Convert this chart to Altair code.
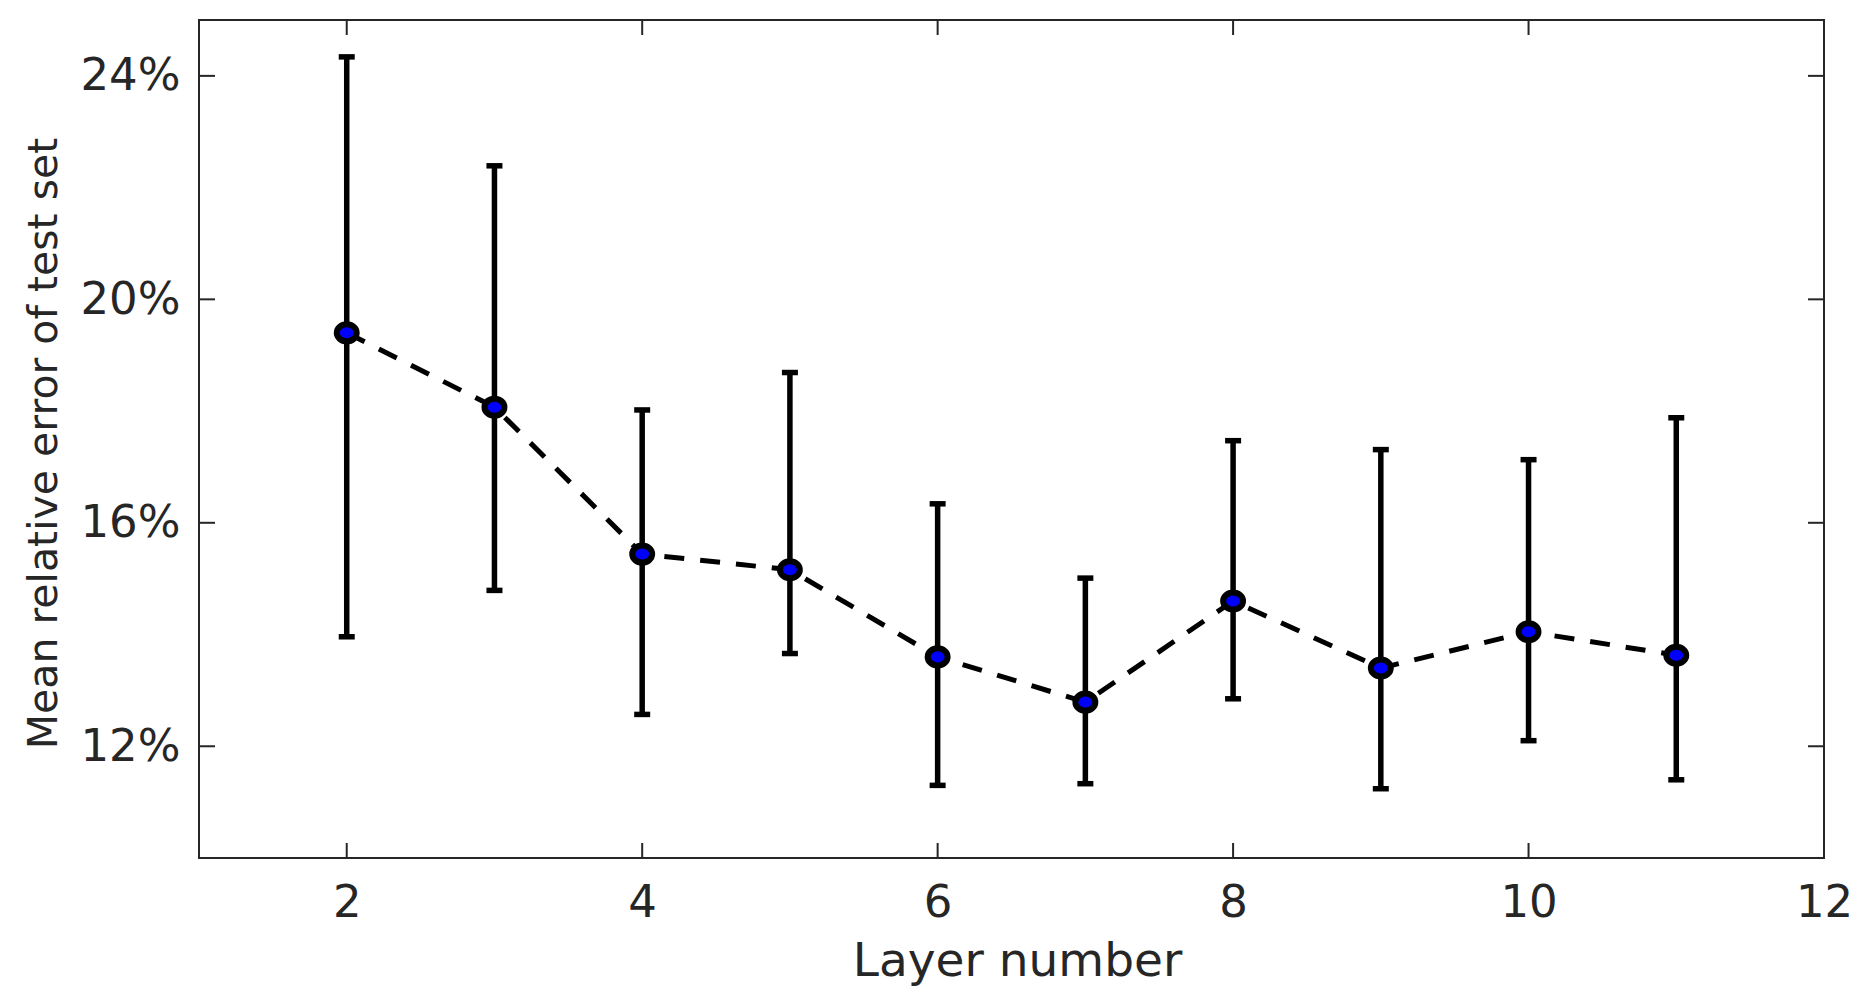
import altair as alt
import pandas as pd

# Data
layers = [2, 3, 4, 5, 6, 7, 8, 9, 10, 11]
mean_err = [19.40, 18.07, 15.44, 15.16, 13.60, 12.79, 14.60, 13.40, 14.05, 13.63]
upper_err = [24.34, 22.39, 18.02, 18.69, 16.34, 15.01, 17.47, 17.31, 17.13, 17.88]
lower_err = [13.96, 14.79, 12.57, 13.66, 11.30, 11.33, 12.85, 11.24, 12.10, 11.40]

x_ticks = [2, 4, 6, 8, 10, 12]
y_ticks = [12, 16, 20, 24]

W, H = 1625, 838
FONT = "DejaVu Sans"
TXT = "#262626"

df = pd.DataFrame({"layer": layers, "mean": mean_err, "upper": upper_err, "lower": lower_err})
dfx = pd.DataFrame({"t": x_ticks})
dfy = pd.DataFrame({"t": y_ticks})

xs = alt.Scale(domain=[1, 12], nice=False, zero=False)
ys = alt.Scale(domain=[10, 25], nice=False, zero=False)

xaxis = alt.Axis(values=x_ticks, title="Layer number", labelPadding=22, labelFlush=False,
                 titleFontSize=47,
                 titleY=117, titleBaseline="alphabetic", titleX=818, titleAlign="center")
yaxis = alt.Axis(values=y_ticks, title="Mean relative error of test set",
                 labelExpr="datum.value + '%'", labelPadding=19, titleFontSize=41,
                 titleX=-143, titleY=423, titleAngle=270, titleBaseline="alphabetic",
                 titleAlign="center")

base = alt.Chart(df)

bars = base.mark_rule(color="black", strokeWidth=5.5).encode(
    x=alt.X("layer:Q", scale=xs, axis=xaxis),
    y=alt.Y("lower:Q", scale=ys, axis=yaxis),
    y2="upper:Q",
)
cap_top = base.mark_tick(color="black", orient="horizontal", size=16, thickness=5.5, opacity=1).encode(
    x=alt.X("layer:Q", scale=xs, axis=xaxis),
    y=alt.Y("upper:Q", scale=ys, axis=yaxis),
)
cap_bot = base.mark_tick(color="black", orient="horizontal", size=16, thickness=5.5, opacity=1).encode(
    x=alt.X("layer:Q", scale=xs, axis=xaxis),
    y=alt.Y("lower:Q", scale=ys, axis=yaxis),
)
line = base.mark_line(color="black", strokeWidth=5, strokeDash=[20, 16]).encode(
    x=alt.X("layer:Q", scale=xs, axis=xaxis),
    y=alt.Y("mean:Q", scale=ys, axis=yaxis),
)
ellipse = "M-1.17,0A1.17,1 0 1,1 1.17,0A1.17,1 0 1,1 -1.17,0Z"
points = base.mark_point(shape=ellipse, size=290, filled=True, fill="#0000ff", stroke="black",
                         strokeWidth=6, opacity=1).encode(
    x=alt.X("layer:Q", scale=xs, axis=xaxis),
    y=alt.Y("mean:Q", scale=ys, axis=yaxis),
)

# inward ticks on all four sides (MATLAB-style box)
tick_left = alt.Chart(dfy).mark_rule(color=TXT, strokeWidth=2).encode(
    y=alt.Y("t:Q", scale=ys, axis=yaxis), x=alt.value(0), x2=alt.value(16))
tick_right = alt.Chart(dfy).mark_rule(color=TXT, strokeWidth=2).encode(
    y=alt.Y("t:Q", scale=ys, axis=yaxis), x=alt.value(W - 16), x2=alt.value(W))
tick_top = alt.Chart(dfx).mark_rule(color=TXT, strokeWidth=2).encode(
    x=alt.X("t:Q", scale=xs, axis=xaxis), y=alt.value(0), y2=alt.value(15))
tick_bot = alt.Chart(dfx).mark_rule(color=TXT, strokeWidth=2).encode(
    x=alt.X("t:Q", scale=xs, axis=xaxis), y=alt.value(H - 15), y2=alt.value(H))

chart = alt.layer(
    bars, cap_top, cap_bot, line, points, tick_left, tick_right, tick_top, tick_bot
).properties(
    width=W, height=H,
    padding={"left": 191, "top": 12, "right": 37, "bottom": 136},
    autosize=alt.AutoSizeParams(type="none"),
    background="white",
).configure_view(
    stroke=TXT, strokeWidth=2
).configure_axis(
    labelFont=FONT, labelFontSize=45, labelColor=TXT,
    titleFont=FONT, titleFontSize=43, titleColor=TXT, titleFontWeight="normal",
    domain=False, ticks=False, tickSize=0, grid=False,
)

chart.save("out.html", embed_options={"renderer": "svg", "actions": False})
